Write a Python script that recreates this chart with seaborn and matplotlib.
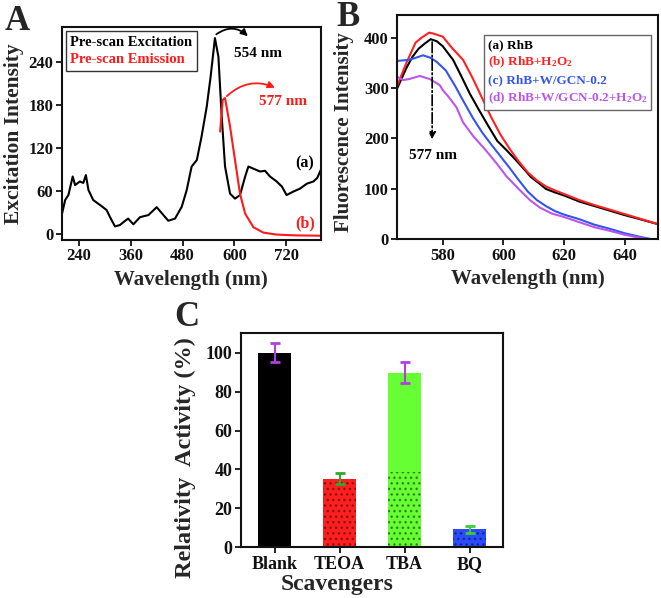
import matplotlib
matplotlib.use("Agg")
import matplotlib.pyplot as plt
import seaborn as sns
import pandas as pd

# ---------------- data ----------------
# panel A: pre-scan excitation (a) and emission (b)
exc_wl = [200.8, 208, 215.5, 225.5, 231, 242, 250, 256, 262, 273, 289, 304, 312, 323.5,
          335, 345, 354, 366, 381.5, 401, 420, 435.5, 447, 462.5, 478, 489.6, 501, 513,
          524, 536, 545, 555, 563, 570.7, 578.4, 590, 601.5, 613, 625, 632.5, 644,
          659.5, 671, 682.6, 698, 710, 721, 737, 752, 768, 783, 792, 800]
exc_int = [28, 47, 54, 80, 68, 73, 71, 82, 61, 47, 40, 33, 23, 10,
           12, 17, 21, 13, 23, 26, 37, 26, 18, 21, 37.5, 61, 94, 103,
           136, 178, 220, 274, 248, 164, 94, 56, 49, 54, 80, 94, 91,
           87, 88, 80, 73, 66, 54, 59, 63, 70, 73, 78, 89]
emi_wl = [567, 573, 578.4, 590, 601.5, 613, 625, 644, 667, 698, 740, 800]
emi_int = [143, 187.5, 190, 150, 103, 56, 28, 9, 1.4, -1.4, -2.5, -3]

# panel B: fluorescence spectra
rhb_wl = [565, 568, 570, 572, 574, 576, 578, 580, 583.4, 586, 589, 592, 595, 598, 601,
          604, 607, 609, 612, 614, 617, 620, 625, 630, 635, 640, 645, 651]
rhb_int = [300, 340, 362, 378, 388, 397, 393, 383, 356, 325, 288, 256, 225, 195, 177,
           158, 138, 124, 110, 100, 93, 87, 75, 66, 57, 48, 40, 30]
rhb_h2o2_wl = [565, 568, 571, 573, 575.5, 577, 579, 580, 583, 586.7, 590, 593, 596, 599,
               602, 605, 608, 611, 614, 617, 620, 625, 630, 635, 640, 645, 651]
rhb_h2o2_int = [305, 350, 390, 400, 410, 408, 404, 402, 380, 356, 318, 280, 242, 208,
                180, 155, 133, 117, 105, 97, 90, 78, 68, 59, 50, 41, 30]
rhb_gcn_wl = [565, 569, 571, 573.5, 576, 578, 581, 584, 587, 590, 593, 596, 599, 602,
              605, 608, 611, 614, 617, 620, 625, 630, 635, 640, 645, 649]
rhb_gcn_int = [354, 356, 360, 365, 360, 352, 335, 305, 272, 240, 212, 188, 165, 142,
               118, 95, 78, 66, 56, 49, 40, 29, 21, 12, 5, 0]
rhb_gcn_h2o2_wl = [565, 567, 569, 572.4, 575.7, 579, 580, 582, 584.5, 586.7, 590, 594,
                   597.7, 601, 605, 608.7, 612, 616, 619.6, 625, 630, 635, 640, 645, 648]
rhb_gcn_h2o2_int = [322, 316, 318, 324, 318, 306, 296, 282, 262, 232, 205, 178,
                    151, 125, 100, 78, 63, 51, 45, 34, 24, 17, 9, 3, 0]

# panel C: scavenger test
scavengers = ["Blank", "TEOA", "TBA", "BQ"]
activity = [100, 35.2, 89.7, 9.3]
activity_err = [5, 2.8, 5.4, 1.9]
dot_fraction = [0, 1.0, 0.43, 1.0]   # share of each bar that carries the dot pattern

# ---------------- style ----------------
sns.set_theme(style="ticks")
plt.rcParams["font.family"] = ["Liberation Serif", "DejaVu Serif"]
plt.rcParams["font.weight"] = "bold"
plt.rcParams["axes.labelweight"] = "bold"
plt.rcParams["mathtext.fontset"] = "custom"
plt.rcParams["mathtext.rm"] = "Liberation Serif:bold"
plt.rcParams["mathtext.default"] = "rm"
plt.rcParams["axes.linewidth"] = 1.5
plt.rcParams["axes.edgecolor"] = "#111111"
plt.rcParams["xtick.major.width"] = 1.3
plt.rcParams["ytick.major.width"] = 1.3
plt.rcParams["xtick.major.size"] = 4
plt.rcParams["ytick.major.size"] = 4
plt.rcParams["xtick.color"] = "#111111"
plt.rcParams["ytick.color"] = "#111111"
plt.rcParams["hatch.linewidth"] = 1.1

fig = plt.figure(figsize=(6.61, 5.98), dpi=100)
W, H = 661, 598


def px_axes(left, top, right, bottom):
    return fig.add_axes([left / W, 1 - bottom / H, (right - left) / W, (bottom - top) / H])


def tidy(ax, size):
    for s in ax.spines.values():
        s.set_visible(True)
    ax.tick_params(labelsize=size, pad=2)
    for lab in ax.get_xticklabels() + ax.get_yticklabels():
        lab.set_fontweight("bold")


# ================= panel A =================
axA = px_axes(61.7, 26.7, 320.7, 240)
dfa = pd.DataFrame({"wl": exc_wl, "val": exc_int})
dfb = pd.DataFrame({"wl": emi_wl, "val": emi_int})
sns.lineplot(data=dfa, x="wl", y="val", color="black", lw=1.5, ax=axA,
             label="Pre-scan Excitation", sort=False)
sns.lineplot(data=dfb, x="wl", y="val", color="#ff1a1a", lw=1.5, ax=axA,
             label="Pre-scan Emission", sort=False)
axA.set_xlim(200, 800)
axA.set_ylim(-9, 290)
axA.set_xticks([240, 360, 480, 600, 720])
axA.set_yticks([0, 60, 120, 180, 240])
axA.set_xlabel("Wavelength (nm)", fontsize=15, labelpad=4)
axA.set_ylabel("Excitation Intensity", fontsize=15.5, labelpad=3)
tidy(axA, 12)
legA = axA.legend(loc="upper left", handlelength=0, handletextpad=0, fancybox=False,
                  edgecolor="#333333", framealpha=1, fontsize=10.5, borderaxespad=0.3,
                  borderpad=0.3, labelspacing=0.3)
legA.get_frame().set_linewidth(1.0)
for txt, col in zip(legA.get_texts(), ["black", "#ff1a1a"]):
    txt.set_color(col)
for h in legA.legend_handles:
    h.set_visible(False)
axA.annotate("", xy=(636, 274), xytext=(553, 277),
             arrowprops=dict(arrowstyle="-|>", color="black", lw=1.3,
                             connectionstyle="arc3,rad=-0.45", mutation_scale=10))
axA.text(655, 253, "554 nm", fontsize=11, ha="center", va="center", color="black")
axA.annotate("", xy=(700, 203), xytext=(578, 190),
             arrowprops=dict(arrowstyle="-|>", color="#ff1a1a", lw=1.3,
                             connectionstyle="arc3,rad=-0.35", mutation_scale=10))
axA.text(713, 185, "577 nm", fontsize=11, ha="center", va="center", color="#ff1a1a")
axA.text(763, 98, "(a)", fontsize=11.5, ha="center", va="center", color="black")
axA.text(763, 14, "(b)", fontsize=11.5, ha="center", va="center", color="#ff1a1a")

# ================= panel B =================
axB = px_axes(397.3, 15, 658, 239.3)
series_b = [
    (rhb_wl, rhb_int, "(a) RhB", "black"),
    (rhb_h2o2_wl, rhb_h2o2_int, "(b) RhB+H$_2$O$_2$", "#ff2020"),
    (rhb_gcn_wl, rhb_gcn_int, "(c) RhB+W/GCN-0.2", "#3355ee"),
    (rhb_gcn_h2o2_wl, rhb_gcn_h2o2_int, "(d) RhB+W/GCN-0.2+H$_2$O$_2$", "#bb55ee"),
]
for wl, val, lab, col in series_b:
    sns.lineplot(x=wl, y=val, color=col, lw=1.5, ax=axB, label=lab, sort=False)
axB.set_xlim(565, 651)
axB.set_ylim(0, 445)
axB.set_xticks([580, 600, 620, 640])
axB.set_yticks([0, 100, 200, 300, 400])
axB.set_xlabel("Wavelength (nm)", fontsize=15, labelpad=4)
axB.set_ylabel("Fluorescence Intensity", fontsize=15)
tidy(axB, 12)
axB.yaxis.set_label_coords(-0.165, 0.476)
legB = axB.legend(loc="upper right", handlelength=0, handletextpad=0, fancybox=False,
                  edgecolor="#666666", framealpha=1, fontsize=9.5, borderaxespad=0.3,
                  borderpad=0.3, labelspacing=0.3, bbox_to_anchor=(0.99, 0.93))
legB.get_frame().set_linewidth(1.0)
for txt, (_, _, _, col) in zip(legB.get_texts(), series_b):
    txt.set_color(col)
for h in legB.legend_handles:
    h.set_visible(False)
axB.annotate("", xy=(576.5, 193), xytext=(576.5, 397),
             arrowprops=dict(arrowstyle="-|>", color="black", lw=1.2, ls="-.",
                             mutation_scale=10))
axB.text(576.8, 167, "577 nm", fontsize=11, ha="center", va="center", color="black")

# ================= panel C =================
axC = px_axes(240.7, 333.3, 503.3, 547.3)
bar_colors = ["#000000", "#ff1f1f", "#66ff33", "#2b4bff"]
err_colors = ["#b040e0", "#2ea82e", "#b040e0", "#3ccc3c"]
dfc = pd.DataFrame({"scavenger": scavengers, "activity": activity})
sns.barplot(data=dfc, x="scavenger", y="activity", hue="scavenger", palette=bar_colors,
            width=0.5, legend=False, ax=axC, saturation=1)
for p in axC.patches:
    p.set_linewidth(0)
# dot texture on the lower part of the coloured bars
axC.bar(range(len(scavengers)), [a * f for a, f in zip(activity, dot_fraction)], width=0.5,
        fill=False, hatch="...", edgecolor=(0, 0, 0, 0.4), linewidth=0)
for i, (v, e, c) in enumerate(zip(activity, activity_err, err_colors)):
    axC.errorbar(i, v, yerr=e, fmt="none", ecolor=c, elinewidth=1.5, capsize=3.5,
                 capthick=2)
axC.set_xlim(-0.52, 3.52)
axC.set_ylim(0, 110)
axC.set_yticks([0, 20, 40, 60, 80, 100])
axC.set_xlabel("Scavengers", fontsize=17)
axC.set_ylabel("Relativity  Activity (%)", fontsize=17.5)
tidy(axC, 13)
axC.xaxis.set_label_coords(0.367, -0.125)
axC.yaxis.set_label_coords(-0.17, 0.417)

# panel letters
fig.text(17 / W, 1 - 22 / H, "A", fontsize=25, fontweight="bold", ha="center", va="center")
fig.text(348 / W, 1 - 17 / H, "B", fontsize=25, fontweight="bold", ha="center", va="center")
fig.text(187 / W, 1 - 318 / H, "C", fontsize=25, fontweight="bold", ha="center", va="center")

fig.savefig("out.png", dpi=100)
